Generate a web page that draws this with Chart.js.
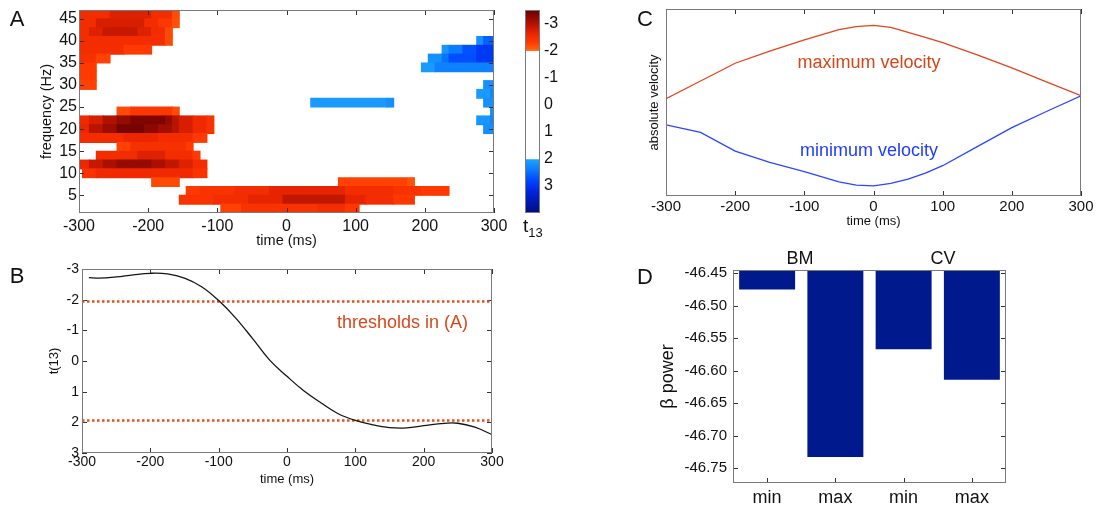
<!DOCTYPE html>
<html lang="en">
<head>
<meta charset="utf-8">
<title>Beta power, t-maps and velocity</title>
<script src="https://cdn.jsdelivr.net/npm/chart.js@4.4.1/dist/chart.umd.min.js"></script>
<style>
  html, body { margin: 0; padding: 0; background: #fff; }
  .figure { position: relative; width: 1096px; height: 509px; overflow: hidden;
    font-family: "Liberation Sans", Arial, sans-serif; color: #111; }
  .figure canvas { position: absolute; }
  .note { position: absolute; white-space: nowrap; line-height: 1; transform: translate(-50%, -50%); }
  .note.start { transform: translate(0, -50%); }
  .letter { font-size: 22px; }
  .t13 { font-size: 19px; }
  .t13 sub { font-size: 13px; vertical-align: -5px; }
</style>
</head>
<body>
<div class="figure">
  <canvas id="heatChart" width="520" height="250" style="left:0;top:0"></canvas>
  <canvas id="colorbarChart" width="80" height="250" style="left:500px;top:0"></canvas>
  <canvas id="tChart" width="520" height="245" style="left:0;top:250px"></canvas>
  <canvas id="velocityChart" width="496" height="235" style="left:600px;top:0"></canvas>
  <canvas id="betaChart" width="496" height="259" style="left:600px;top:250px"></canvas>

  <div class="note letter" style="left:17px;top:19px">A</div>
  <div class="note letter" style="left:17px;top:276px">B</div>
  <div class="note letter" style="left:645px;top:19px">C</div>
  <div class="note letter" style="left:645px;top:277px">D</div>

  <div class="note start t13" style="left:523px;top:227px">t<sub>13</sub></div>
  <div class="note start" style="left:337px;top:322px;font-size:18px;color:#d9481a">thresholds in (A)</div>
  <div class="note" style="left:869px;top:62px;font-size:18px;color:#d4461a">maximum velocity</div>
  <div class="note" style="left:869px;top:150px;font-size:18px;color:#1f3cff">minimum velocity</div>
  <div class="note" style="left:800px;top:258px;font-size:18px">BM</div>
  <div class="note" style="left:943px;top:258px;font-size:18px">CV</div>
</div>

<script>
// 1) Values.
// Panel A: runs of 10 ms bins per frequency row -> [freq Hz, first bin ms, last bin ms, t13]
const timeRange = [-300, 300];
const timeTicks = [-300, -200, -100, 0, 100, 200, 300];
const freqRange = [1, 47];
const freqTicks = [5, 10, 15, 20, 25, 30, 35, 40, 45];
const binHalfWidth = 5;

const redRuns = [
  [46, -300, -260, -2.5], [46, -250, -200, -2.7], [46, -190, -170, -2.5], [46, -160, -160, -2.2],
  [44, -300, -280, -2.5], [44, -270, -210, -2.75], [44, -200, -190, -2.5], [44, -180, -170, -2.35], [44, -160, -160, -2.15],
  [42, -300, -290, -2.5], [42, -280, -270, -2.7], [42, -260, -220, -2.85], [42, -210, -200, -2.7], [42, -190, -180, -2.5], [42, -170, -170, -2.2],
  [40, -300, -180, -2.5], [40, -170, -170, -2.2],
  [38, -300, -240, -2.5], [38, -230, -200, -2.3],
  [36, -300, -280, -2.45], [36, -270, -260, -2.25],
  [34, -300, -280, -2.3],
  [32, -300, -280, -2.3],
  [30, -300, -280, -2.25],
  [24, -240, -230, -2.2], [24, -220, -170, -2.35], [24, -160, -160, -2.2],
  [22, -300, -290, -2.55], [22, -280, -270, -2.75], [22, -260, -250, -3.0], [22, -240, -230, -3.2], [22, -220, -180, -3.35],
  [22, -170, -170, -3.2], [22, -160, -160, -2.95], [22, -150, -140, -2.75], [22, -130, -120, -2.55], [22, -110, -110, -2.4],
  [20, -300, -290, -2.6], [20, -280, -270, -2.95], [20, -260, -250, -3.15], [20, -240, -210, -3.4], [20, -200, -190, -3.25],
  [20, -180, -170, -3.1], [20, -160, -160, -2.95], [20, -150, -140, -2.75], [20, -130, -120, -2.55], [20, -110, -110, -2.4],
  [18, -300, -240, -2.5], [18, -230, -190, -2.6], [18, -180, -140, -2.5], [18, -130, -120, -2.3],
  [16, -240, -230, -2.25], [16, -220, -150, -2.45], [16, -140, -140, -2.3],
  [14, -270, -220, -2.5], [14, -210, -180, -2.7], [14, -170, -140, -2.5], [14, -130, -130, -2.3],
  [12, -300, -290, -2.6], [12, -280, -270, -2.85], [12, -260, -250, -3.05], [12, -240, -200, -3.2],
  [12, -190, -180, -3.05], [12, -170, -160, -2.9], [12, -150, -140, -2.7], [12, -130, -120, -2.5],
  [10, -290, -280, -2.4], [10, -270, -140, -2.55], [10, -130, -120, -2.4],
  [8, -190, -160, -2.2], [8, 80, 170, -2.25], [8, 180, 180, -2.15],
  [6, -140, -130, -2.3], [6, -120, -80, -2.4], [6, -70, -30, -2.5], [6, -20, 80, -2.65], [6, 90, 150, -2.5], [6, 160, 190, -2.4], [6, 200, 230, -2.3],
  [4, -150, -110, -2.4], [4, -100, -60, -2.5], [4, -50, -10, -2.65], [4, 0, 80, -2.9], [4, 90, 110, -2.65], [4, 120, 150, -2.5], [4, 160, 180, -2.35],
  [2, -90, -70, -2.25], [2, -60, 40, -2.4], [2, 50, 80, -2.5], [2, 90, 100, -2.35]
];

const blueRuns = [
  [40, 280, 280, 2.2], [40, 290, 300, 2.6],
  [38, 230, 230, 2.15], [38, 240, 250, 2.4], [38, 260, 270, 2.7], [38, 280, 300, 2.95],
  [36, 210, 220, 2.2], [36, 230, 230, 2.45], [36, 240, 270, 2.75], [36, 280, 300, 2.95],
  [34, 200, 210, 2.1], [34, 220, 300, 2.35],
  [30, 290, 300, 2.2],
  [28, 280, 290, 2.1], [28, 300, 300, 2.3],
  [26, 40, 140, 2.1], [26, 150, 150, 2.2], [26, 290, 300, 2.2],
  [24, 300, 300, 2.2],
  [22, 280, 290, 2.15], [22, 300, 300, 2.3],
  [20, 290, 300, 2.2]
];

// colour scale of the t13 bar (white between the thresholds)
const colorbarRange = [-3.5, 4];
const colorbarTicks = [-3, -2, -1, 0, 1, 2, 3];
const redStops = [[-3.5, "#6a0000"], [-3.0, "#b01200"], [-2.6, "#ee2600"], [-2.3, "#ff3a00"], [-2.0, "#ff6a10"]];
const blueStops = [[2.0, "#20a4ff"], [2.4, "#0a7cff"], [2.8, "#0046ff"], [3.2, "#0024e0"], [4.0, "#000c80"]];

// Panel B
const tTimes = [-290, -275, -250, -225, -200, -175, -150, -125, -100, -75, -50, -25, 0,
  25, 50, 75, 100, 125, 150, 175, 200, 225, 250, 275, 300];
const tValues = [-2.72, -2.70, -2.74, -2.81, -2.86, -2.84, -2.70, -2.42, -1.97, -1.40, -0.72, -0.02, 0.50,
  0.98, 1.37, 1.72, 1.94, 2.08, 2.17, 2.18, 2.11, 2.04, 2.03, 2.16, 2.40];
const tThreshold = 1.94;
const tTicks = [-3, -2, -1, 0, 1, 2, 3];

// Panel C (arbitrary units)
const velocityTimes = [-300, -250, -200, -150, -100, -50, -25, 0, 25, 50, 75, 100, 150, 200, 250, 300];
const maxVelocity = [52, 61.5, 71, 77.5, 83.5, 89, 90.6, 91.2, 90.2, 87.5, 84.8, 82, 75.5, 68.5, 61, 53.7];
const minVelocity = [38, 34, 24, 18, 13, 7.5, 5.8, 5.4, 6.8, 9.0, 12.2, 16.2, 26.4, 36.6, 45.2, 53.6];

// Panel D
const betaLabels = ["min", "max", "min", "max"];
const betaPower = [-46.475, -46.733, -46.567, -46.614];
const betaRange = [-46.773, -46.445];
const betaTicks = [-46.45, -46.50, -46.55, -46.60, -46.65, -46.70, -46.75];

// 2) Helpers.
Chart.defaults.font.family = "'Liberation Sans', Arial, sans-serif";
Chart.defaults.color = "#111";
Chart.defaults.animation = false;
Chart.defaults.plugins.legend.display = false;
Chart.defaults.plugins.tooltip.enabled = false;

function hexToRgb(hex) {
  const n = parseInt(hex.slice(1), 16);
  return [(n >> 16) & 255, (n >> 8) & 255, n & 255];
}

function colorFor(value) {
  const stops = value < 0 ? redStops : blueStops;
  if (value <= stops[0][0]) return stops[0][1];
  for (let i = 1; i < stops.length; i++) {
    const [v1, c1] = stops[i];
    const [v0, c0] = stops[i - 1];
    if (value <= v1) {
      const f = (value - v0) / (v1 - v0);
      const a = hexToRgb(c0);
      const b = hexToRgb(c1);
      const mix = a.map((ch, k) => Math.round(ch + (b[k] - ch) * f));
      return `rgb(${mix[0]}, ${mix[1]}, ${mix[2]})`;
    }
  }
  return stops[stops.length - 1][1];
}

function stopGradient(chart, stops) {
  const yScale = chart.scales.y;
  const first = stops[0][0];
  const last = stops[stops.length - 1][0];
  const g = chart.ctx.createLinearGradient(0, yScale.getPixelForValue(first), 0, yScale.getPixelForValue(last));
  stops.forEach(([v, c]) => g.addColorStop((v - first) / (last - first), c));
  return g;
}

function fixWidth(px) {
  return (scale) => { scale.width = px; scale.paddingTop = 0; scale.paddingBottom = 0; };
}

function fixHeight(px) {
  return (scale) => { scale.height = px; scale.paddingLeft = 0; scale.paddingRight = 0; };
}

function useTicks(values) {
  return (scale) => { scale.ticks = values.map((value) => ({ value })); };
}

function axisTitle(text, size, padding) {
  return { display: true, text, color: "#111", font: { size }, padding };
}

const plainGrid = { display: false, drawTicks: false };
const noBorder = { display: false };

// boxed axes with inward tick marks
function drawTickMarks(chart, opts) {
  const { ctx, chartArea: a, scales } = chart;
  const len = opts.tickLength || 5;
  ctx.save();
  ctx.strokeStyle = opts.tickColor || "#333";
  ctx.lineWidth = 1;
  ctx.beginPath();
  (opts.xSides || []).forEach((side) => {
    const s = scales.x;
    s.ticks.forEach((t, i) => {
      const px = Math.round(s.getPixelForTick(i)) + 0.5;
      if (side === "bottom") { ctx.moveTo(px, a.bottom); ctx.lineTo(px, a.bottom - len); }
      else { ctx.moveTo(px, a.top); ctx.lineTo(px, a.top + len); }
    });
  });
  (opts.ySides || []).forEach((side) => {
    const s = scales.y;
    s.ticks.forEach((t, i) => {
      const py = Math.round(s.getPixelForTick(i)) + 0.5;
      if (side === "left") { ctx.moveTo(a.left, py); ctx.lineTo(a.left + len, py); }
      else { ctx.moveTo(a.right, py); ctx.lineTo(a.right - len, py); }
    });
  });
  ctx.stroke();
  ctx.restore();
}

function drawFrame(chart, opts) {
  const { ctx, chartArea: a } = chart;
  ctx.save();
  ctx.strokeStyle = opts.frameColor || "#7a7a7a";
  ctx.lineWidth = 1;
  ctx.strokeRect(Math.round(a.left) + 0.5, Math.round(a.top) + 0.5,
    Math.round(a.right - a.left) - 1, Math.round(a.bottom - a.top) - 1);
  ctx.restore();
}

const axisFrame = {
  id: "axisFrame",
  beforeDatasetsDraw(chart, args, opts) {
    if (!opts.ticksOnTop) drawTickMarks(chart, opts);
  },
  afterDatasetsDraw(chart, args, opts) {
    if (opts.ticksOnTop) drawTickMarks(chart, opts);
    drawFrame(chart, opts);
  }
};
Chart.register(axisFrame);

// 3) Panel A: time-frequency t-map.
const heatCells = redRuns.concat(blueRuns);

new Chart(document.getElementById("heatChart"), {
  type: "bar",
  data: {
    datasets: [{
      data: heatCells.map(([freq, first, last]) => ({ y: freq, x: [first - binHalfWidth, last + binHalfWidth] })),
      backgroundColor: heatCells.map((cell) => colorFor(cell[3])),
      borderWidth: 0,
      barPercentage: 1,
      categoryPercentage: 1,
      inflateAmount: 0.5,
      grouped: false
    }]
  },
  options: {
    responsive: false,
    devicePixelRatio: 1,
    indexAxis: "y",
    layout: { padding: { left: 0, top: 10, right: 26, bottom: 0 } },
    scales: {
      x: {
        type: "linear", min: timeRange[0], max: timeRange[1],
        afterBuildTicks: useTicks(timeTicks), afterFit: fixHeight(37),
        grid: plainGrid, border: noBorder,
        ticks: { font: { size: 16 }, padding: 4, color: "#111" },
        title: axisTitle("time (ms)", 14.5, { top: 0, bottom: 0 })
      },
      y: {
        type: "linear", min: freqRange[0], max: freqRange[1], offset: false,
        afterBuildTicks: useTicks(freqTicks), afterFit: fixWidth(79),
        grid: plainGrid, border: noBorder,
        ticks: { font: { size: 16 }, padding: 2, color: "#111" },
        title: axisTitle("frequency (Hz)", 14.5, { top: 38, bottom: 0 })
      }
    },
    plugins: { axisFrame: { xSides: ["top", "bottom"], ySides: ["left", "right"], ticksOnTop: true } }
  }
});

// colour bar for panel A
new Chart(document.getElementById("colorbarChart"), {
  type: "bar",
  data: {
    labels: ["t13"],
    datasets: [
      { data: [[colorbarRange[0], -2]], backgroundColor: (c) => (c.chart.chartArea ? stopGradient(c.chart, redStops) : "#f30") },
      { data: [[-2, 2]], backgroundColor: "#fff" },
      { data: [[2, colorbarRange[1]]], backgroundColor: (c) => (c.chart.chartArea ? stopGradient(c.chart, blueStops) : "#06f") }
    ].map((ds) => Object.assign(ds, { barPercentage: 1, categoryPercentage: 1, grouped: false, borderWidth: 0 }))
  },
  options: {
    responsive: false,
    devicePixelRatio: 1,
    layout: { padding: { left: 25, top: 10, right: 0, bottom: 37 } },
    scales: {
      x: { display: false },
      y: {
        position: "right", reverse: true, min: colorbarRange[0], max: colorbarRange[1],
        afterBuildTicks: useTicks(colorbarTicks), afterFit: fixWidth(40),
        grid: plainGrid, border: noBorder,
        ticks: { font: { size: 16 }, padding: 4, color: "#111" }
      }
    },
    plugins: { axisFrame: { ySides: ["right"], tickLength: 4 } }
  }
});

// 4) Panel B: t-value over time with thresholds.
const thresholdLine = (level) => ({
  data: timeRange.map((t) => ({ x: t, y: level })),
  borderColor: "#e4501c",
  borderWidth: 2.6,
  borderDash: [2.5, 2.5],
  pointRadius: 0
});

new Chart(document.getElementById("tChart"), {
  type: "line",
  data: {
    datasets: [
      {
        data: tTimes.map((t, i) => ({ x: t, y: tValues[i] })),
        borderColor: "#141414",
        borderWidth: 1.3,
        pointRadius: 0,
        tension: 0.4
      },
      thresholdLine(-tThreshold),
      thresholdLine(tThreshold)
    ]
  },
  options: {
    responsive: false,
    devicePixelRatio: 1,
    layout: { padding: { left: 0, top: 19, right: 28, bottom: 0 } },
    scales: {
      x: {
        type: "linear", min: timeRange[0], max: timeRange[1],
        afterBuildTicks: useTicks(timeTicks), afterFit: fixHeight(42),
        grid: plainGrid, border: noBorder,
        ticks: { font: { size: 14 }, padding: 1, color: "#111" },
        title: axisTitle("time (ms)", 13, { top: 0, bottom: 8 })
      },
      y: {
        reverse: true, min: tTicks[0], max: tTicks[tTicks.length - 1],
        afterBuildTicks: useTicks(tTicks), afterFit: fixWidth(82),
        grid: plainGrid, border: noBorder,
        ticks: { font: { size: 14 }, padding: 3, color: "#111" },
        title: axisTitle("t(13)", 13, { top: 47, bottom: 0 })
      }
    },
    plugins: { axisFrame: { xSides: ["top", "bottom"], ySides: ["left", "right"] } }
  }
});

// 5) Panel C: absolute velocity.
new Chart(document.getElementById("velocityChart"), {
  type: "line",
  data: {
    datasets: [
      {
        data: velocityTimes.map((t, i) => ({ x: t, y: maxVelocity[i] })),
        borderColor: "#e2441e", borderWidth: 1.3, pointRadius: 0, tension: 0
      },
      {
        data: velocityTimes.map((t, i) => ({ x: t, y: minVelocity[i] })),
        borderColor: "#2a46ff", borderWidth: 1.3, pointRadius: 0, tension: 0
      }
    ]
  },
  options: {
    responsive: false,
    devicePixelRatio: 1,
    layout: { padding: { left: 0, top: 9, right: 15, bottom: 0 } },
    scales: {
      x: {
        type: "linear", min: timeRange[0], max: timeRange[1],
        afterBuildTicks: useTicks(timeTicks), afterFit: fixHeight(39),
        grid: plainGrid, border: noBorder,
        ticks: { font: { size: 15 }, padding: 2, color: "#111" },
        title: axisTitle("time (ms)", 13, { top: 0, bottom: 6 })
      },
      y: {
        min: 0, max: 100, afterFit: fixWidth(66),
        grid: plainGrid, border: noBorder,
        ticks: { display: false },
        title: axisTitle("absolute velocity", 13, { top: 47, bottom: 0 })
      }
    },
    plugins: { axisFrame: { xSides: ["top", "bottom"] } }
  }
});

// 6) Panel D: beta power per condition.
new Chart(document.getElementById("betaChart"), {
  type: "bar",
  data: {
    labels: betaLabels,
    datasets: [{
      data: betaPower,
      backgroundColor: "#00198c",
      borderWidth: 0,
      barPercentage: 0.82,
      categoryPercentage: 1
    }]
  },
  options: {
    responsive: false,
    devicePixelRatio: 1,
    layout: { padding: { left: 0, top: 20, right: 90, bottom: 0 } },
    scales: {
      x: {
        afterFit: fixHeight(26),
        grid: plainGrid, border: noBorder,
        ticks: { font: { size: 18 }, padding: 4, color: "#111" }
      },
      y: {
        min: betaRange[0], max: betaRange[1],
        afterBuildTicks: useTicks(betaTicks), afterFit: fixWidth(133),
        grid: plainGrid, border: noBorder,
        ticks: { font: { size: 15 }, padding: 6, color: "#111", callback: (v) => v.toFixed(2) },
        title: axisTitle("β power", 18, { top: 57, bottom: 0 })
      }
    },
    plugins: { axisFrame: { xSides: ["bottom"], ySides: ["left", "right"] } }
  }
});
</script>
</body>
</html>
